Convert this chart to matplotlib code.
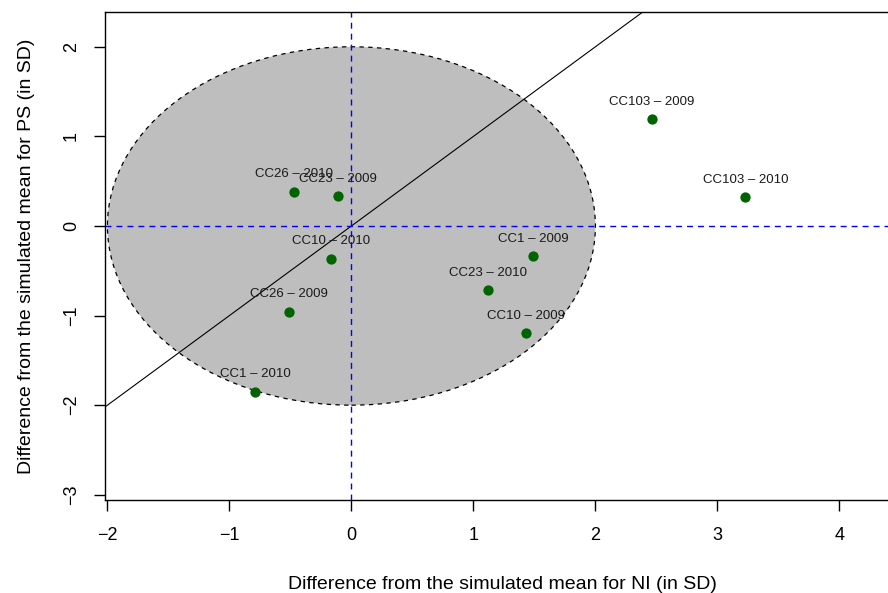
import matplotlib
matplotlib.use("Agg")
import matplotlib.pyplot as plt
from matplotlib.patches import Ellipse

plt.rcParams["font.family"] = ["Liberation Sans", "DejaVu Sans"]

# standardised differences from the simulated means (NI on x, PS on y)
labels = ["CC103 \u2013 2009", "CC103 \u2013 2010", "CC1 \u2013 2009", "CC23 \u2013 2010",
          "CC10 \u2013 2009", "CC26 \u2013 2010", "CC23 \u2013 2009", "CC10 \u2013 2010",
          "CC26 \u2013 2009", "CC1 \u2013 2010"]
ni_diff = [2.46, 3.23, 1.49, 1.12, 1.43, -0.47, -0.11, -0.17, -0.51, -0.79]
ps_diff = [1.19, 0.32, -0.34, -0.72, -1.20, 0.38, 0.33, -0.37, -0.96, -1.85]

radius = 2.0
dash = (0, (4.3, 3.6))

fig = plt.figure(figsize=(8.88, 5.93), dpi=100)
ax = fig.add_axes([105 / 888, 93.3 / 593, 795.4 / 888, 487.7 / 593])
ax.set_xlim(-2.02, 4.5)
ax.set_ylim(-3.055, 2.388)

# 2-SD acceptance region
circ = Ellipse((0, 0), 2 * radius, 2 * radius, facecolor="#bebebe",
               edgecolor="black", linestyle=(0, (3.5, 3.5)), linewidth=0.9, zorder=1)
ax.add_patch(circ)

ax.axline((0, 0), slope=1, color="black", linewidth=0.8, zorder=2)
ax.axhline(0, color="blue", linestyle=dash, linewidth=1.0, zorder=2)
ax.axvline(0, color="blue", linestyle=dash, linewidth=1.0, zorder=2)

ax.scatter(ni_diff, ps_diff, s=55, color="#006400", zorder=3, linewidths=0)
for lab, x, y in zip(labels, ni_diff, ps_diff):
    ax.annotate(lab, (x, y), xytext=(0, 12.7), textcoords="offset points",
                ha="center", va="center", fontsize=9.5, color="#1a1a1a", zorder=4)

ax.set_xticks([-2, -1, 0, 1, 2, 3, 4])
ax.set_xticklabels(["\u22122", "\u22121", "0", "1", "2", "3", "4"])
ax.set_yticks([-3, -2, -1, 0, 1, 2])
ax.set_yticklabels(["\u22123", "\u22122", "\u22121", "0", "1", "2"], rotation=90, va="center")
ax.tick_params(direction="out", length=8, width=1, labelsize=13)
ax.tick_params(axis="x", pad=12)
ax.tick_params(axis="y", pad=10)
for sp in ax.spines.values():
    sp.set_linewidth(1.0)

ax.set_xlabel("Difference from the simulated mean for NI (in SD)", fontsize=14, labelpad=23)
ax.set_ylabel("Difference from the simulated mean for PS (in SD)", fontsize=14, labelpad=20)

fig.savefig("out.png", dpi=100)
